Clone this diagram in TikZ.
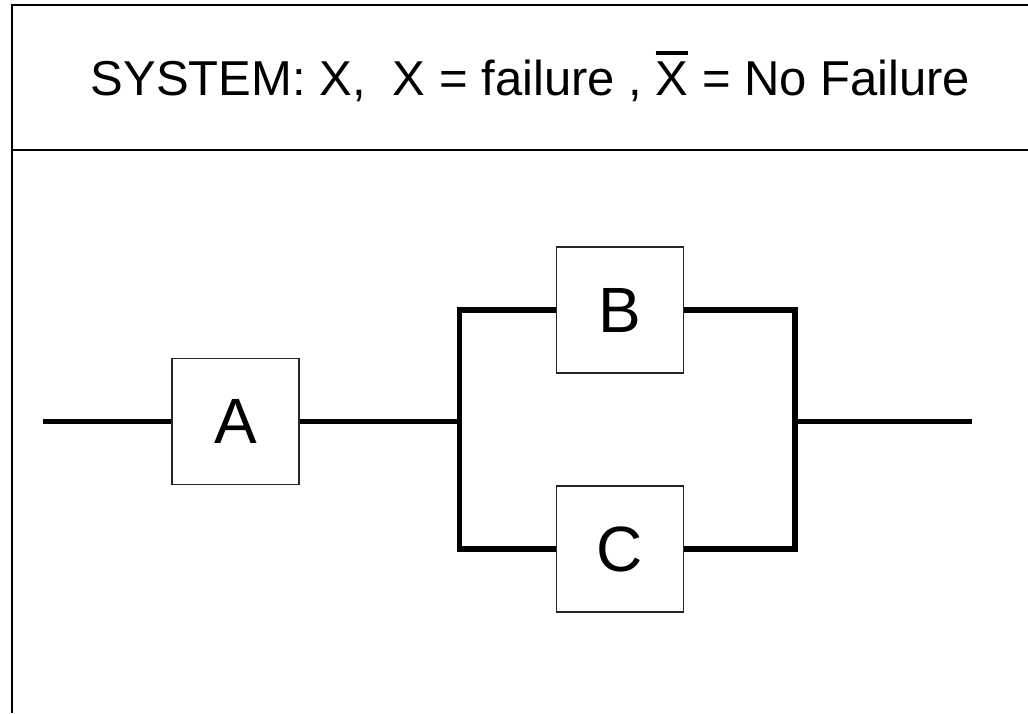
\documentclass[tikz,border=0pt]{standalone}
\usepackage{fontspec}
\setmainfont{Liberation Sans}
\usetikzlibrary{positioning}

% X with a bar over it
\newcommand{\barX}{\leavevmode\setbox0\hbox{X}%
	\rlap{\raisebox{\dimexpr\ht0+7pt\relax}{\rule{\wd0}{4pt}}}\box0}

\tikzset{
	block/.style={draw=black!85, line width=1.3pt, fill=white,
		minimum width=127pt, minimum height=126pt, inner sep=0pt,
		font=\fontsize{64}{64}\selectfont},
	wire/.style={line width=5.5pt},
	frame/.style={line width=2pt}
}

\begin{document}
\begin{tikzpicture}[
		x=1pt, y=-1pt,
		line join=miter,
		line cap=butt
		]
		
		\useasboundingbox (0,0) rectangle (1028,713);
		
		% frame and title bar
		\draw[frame] (11.5,713) -- (11.5,5) -- (1028,5);
		\draw[frame] (11.5,150) -- (1028,150);
		
		\node[anchor=base west, inner sep=0pt, font=\fontsize{49}{58}\selectfont] 
		(title) at (90.5,95.5) {SYSTEM: X, \ X = failure , \barX{} = No Failure};
		
		% blocks
		\node[block] (A) at (235.5,421.5) {A};
		\node[block] (B) at (620,310) {B};
		\node[block] (C) at (620,549) {C};
		
		\coordinate (in) at (43,421.5);
		\coordinate (split) at (459.5,421.5);
		\coordinate (join) at (795,421.5);
		\coordinate (out) at (972,421.5);
		
		% connections
		\draw[wire] (in) -- (A);
		\draw[wire] (A) -- (split);
		\draw[wire] (B) -| (split) |- (C);
		\draw[wire] (B) -| (join) |- (C);
		\draw[wire] (join) -- (out);
		
	\end{tikzpicture}
\end{document}
